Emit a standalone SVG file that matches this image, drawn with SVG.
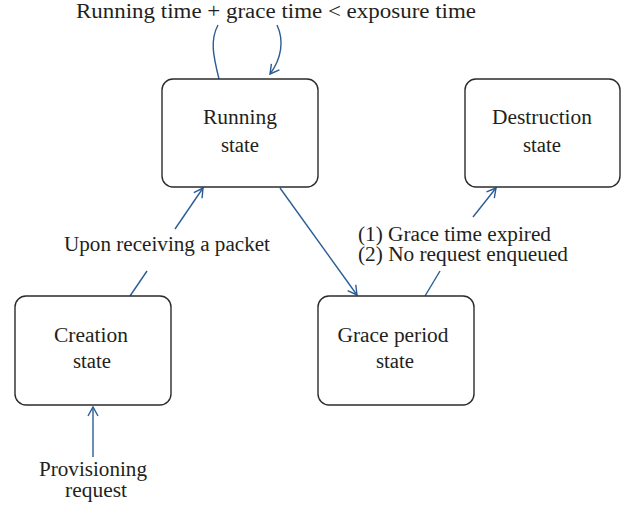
<svg xmlns="http://www.w3.org/2000/svg" width="635" height="506" viewBox="0 0 635 506">
<style>
.box{fill:#fff;stroke:#2b2b2b;stroke-width:1.4}
.t{font-family:"Liberation Serif",serif;font-size:20px;fill:#231f20;text-anchor:middle}
.l{font-family:"Liberation Serif",serif;font-size:20px;fill:#231f20}
.c{fill:none;stroke:#2a5d95;stroke-width:1.4}
</style>
<defs>
<marker id="ah" markerWidth="12" markerHeight="12" refX="10" refY="6" orient="auto" markerUnits="userSpaceOnUse">
<path d="M1,1 L10,6 L1,11" fill="none" stroke="#2a5d95" stroke-width="1.4"/>
</marker>
</defs>
<rect width="635" height="506" fill="#fff"/>
<g id="connectors">
<path class="c" d="M219,79 C213,55 210,40 218,25"/>
<path class="c" d="M277,25 C284,40 282,58 270,74" marker-end="url(#ah)"/>
<path class="c" d="M130,296 L147,271"/>
<path class="c" d="M175,229 L203,188" marker-end="url(#ah)"/>
<path class="c" d="M280,188 L357,295" marker-end="url(#ah)"/>
<path class="c" d="M425,296 L440,271"/>
<path class="c" d="M473,217 L496,188" marker-end="url(#ah)"/>
<path class="c" d="M93,457 L93,407" marker-end="url(#ah)"/>
</g>
<g id="running"><rect class="box" x="162" y="79" width="156" height="108" rx="11"/><text class="t" x="240" y="124" textLength="74" lengthAdjust="spacingAndGlyphs">Running</text><text class="t" x="240" y="152" textLength="38" lengthAdjust="spacingAndGlyphs">state</text></g>
<g id="destruction"><rect class="box" x="465" y="79" width="155" height="108" rx="11"/><text class="t" x="542" y="124" textLength="100" lengthAdjust="spacingAndGlyphs">Destruction</text><text class="t" x="542" y="152" textLength="38" lengthAdjust="spacingAndGlyphs">state</text></g>
<g id="creation"><rect class="box" x="15" y="296" width="156" height="109" rx="11"/><text class="t" x="91" y="342" textLength="74" lengthAdjust="spacingAndGlyphs">Creation</text><text class="t" x="92" y="368" textLength="38" lengthAdjust="spacingAndGlyphs">state</text></g>
<g id="grace"><rect class="box" x="318" y="296" width="156" height="109" rx="11"/><text class="t" x="393" y="342" textLength="111" lengthAdjust="spacingAndGlyphs">Grace period</text><text class="t" x="395" y="368" textLength="38" lengthAdjust="spacingAndGlyphs">state</text></g>
<g id="labels">
<text class="t" x="276" y="18" textLength="400" lengthAdjust="spacingAndGlyphs">Running time + grace time &lt; exposure time</text>
<text class="t" x="167" y="251" textLength="206" lengthAdjust="spacingAndGlyphs">Upon receiving a packet</text>
<text class="l" x="358" y="241" textLength="193" lengthAdjust="spacingAndGlyphs">(1) Grace time expired</text>
<text class="l" x="358" y="261" textLength="210" lengthAdjust="spacingAndGlyphs">(2) No request enqueued</text>
<text class="t" x="93" y="476" textLength="108" lengthAdjust="spacingAndGlyphs">Provisioning</text>
<text class="t" x="96" y="497" textLength="62" lengthAdjust="spacingAndGlyphs">request</text>
</g>
</svg>
